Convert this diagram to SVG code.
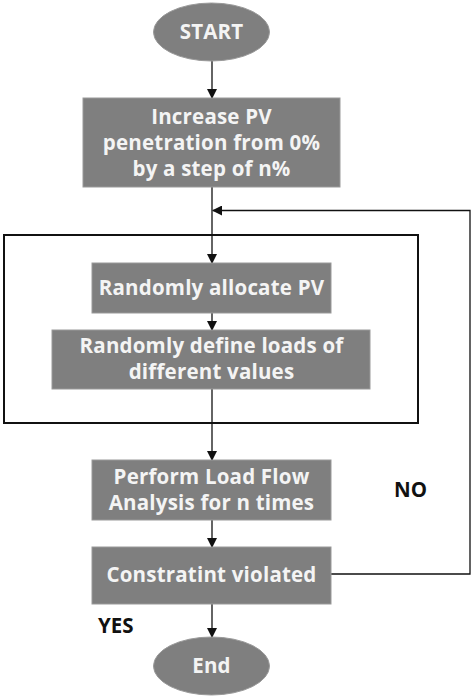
<svg xmlns="http://www.w3.org/2000/svg" width="474" height="698" viewBox="0 0 474 698">
<defs>
<style>
.n{fill:#7f7f7f;stroke:#9a9a9a;stroke-width:1}
.t{font-family:"Open Sans","Liberation Sans",sans-serif;font-weight:bold;font-size:20.5px;letter-spacing:0.2px;fill:#f4f4f4;text-anchor:middle}
.l{font-family:"Open Sans","Liberation Sans",sans-serif;font-weight:bold;font-size:20.5px;fill:#111}
.c{fill:none;stroke:#111;stroke-width:1.3}
</style>
<marker id="a" markerWidth="10" markerHeight="10" refX="9" refY="5" orient="auto" markerUnits="userSpaceOnUse">
<path d="M0,0 L10,5 L0,10 Z" fill="#111"/>
</marker>
</defs>
<rect width="474" height="698" fill="#fff"/>
<rect x="4" y="235" width="414" height="188" fill="none" stroke="#111" stroke-width="2"/>
<g id="connectors">
<path class="c" d="M212,61 V98" marker-end="url(#a)"/>
<path class="c" d="M212,187 V263" marker-end="url(#a)"/>
<path class="c" d="M212,313 V330" marker-end="url(#a)"/>
<path class="c" d="M212,389 V460" marker-end="url(#a)"/>
<path class="c" d="M212,520 V547" marker-end="url(#a)"/>
<path class="c" d="M212,604 V637" marker-end="url(#a)"/>
<path class="c" d="M331,574 H470 V210.5 H213" marker-end="url(#a)"/>
</g>
<g id="start">
<ellipse class="n" cx="211.5" cy="32" rx="58" ry="29"/>
<text class="t" x="211.5" y="39">START</text>
</g>
<g id="increase">
<rect class="n" x="83" y="98" width="257" height="89"/>
<text class="t" x="211.5" y="124">Increase PV</text>
<text class="t" x="211.5" y="150">penetration from 0%</text>
<text class="t" x="211.5" y="176">by a step of n%</text>
</g>
<g id="allocate">
<rect class="n" x="92" y="263" width="239" height="50"/>
<text class="t" x="211.5" y="295">Randomly allocate PV</text>
</g>
<g id="loads">
<rect class="n" x="52" y="330" width="318" height="59"/>
<text class="t" x="211.5" y="352.5">Randomly define loads of</text>
<text class="t" x="211.5" y="379">different values</text>
</g>
<g id="loadflow">
<rect class="n" x="92" y="460" width="239" height="60"/>
<text class="t" x="211.5" y="484">Perform Load Flow</text>
<text class="t" x="211.5" y="510">Analysis for n times</text>
</g>
<g id="constraint">
<rect class="n" x="92" y="547" width="239" height="57"/>
<text class="t" x="211.5" y="582">Constratint violated</text>
</g>
<g id="end">
<ellipse class="n" cx="211.5" cy="666" rx="58" ry="29"/>
<text class="t" x="211.5" y="673">End</text>
</g>
<text class="l" x="394" y="497">NO</text>
<text class="l" x="98" y="633">YES</text>
</svg>
